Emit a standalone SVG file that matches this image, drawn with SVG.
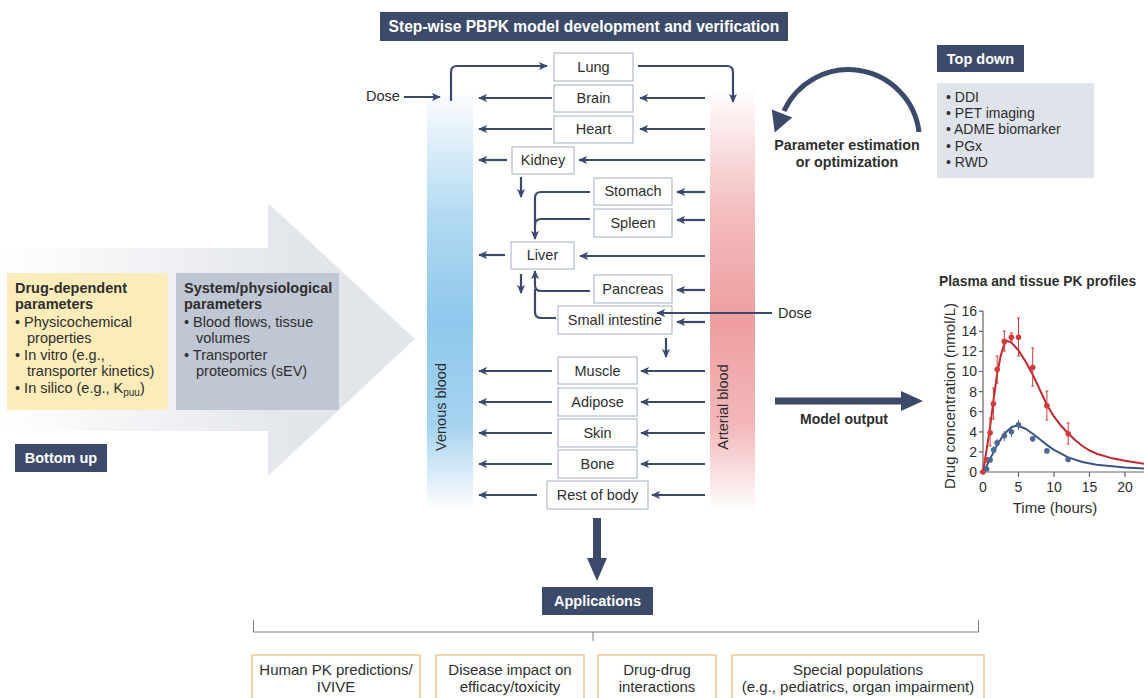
<svg xmlns="http://www.w3.org/2000/svg" width="1144" height="698" viewBox="0 0 1144 698">
<style>
text{font-family:"Liberation Sans",Arial,sans-serif;fill:#2e2e2e}
.b{font-weight:bold}
.w{fill:#ffffff;font-weight:bold}
.org{fill:#ffffff;stroke:#b3bccc;stroke-width:1.2}
.ot{font-size:14.5px;text-anchor:middle}
.nav{fill:#3c4b69}
.ln{fill:none;stroke:#3b4a6b;stroke-width:2.2;marker-end:url(#ah)}
.ln0{fill:none;stroke:#3b4a6b;stroke-width:2.2}
.app{fill:#ffffff;stroke:#e8c27e;stroke-width:1.3}
.at{font-size:15px;text-anchor:middle}
.ax{stroke:#666;stroke-width:1.2;fill:none}
.tk{font-size:14px;fill:#555}
.rd{fill:#d23a3c}
.bl{fill:#4c6a95}
.re{stroke:#d23a3c;stroke-width:1;fill:none}
.be{stroke:#4c6a95;stroke-width:1;fill:none}
</style>
<defs>
<marker id="ah" viewBox="0 0 10 10" refX="9" refY="5" markerWidth="9" markerHeight="9" markerUnits="userSpaceOnUse" orient="auto">
<path d="M0,0.5 L10,5 L0,9.5 L2.5,5 z" fill="#3b4a6b"/>
</marker>
<linearGradient id="bigArrow" gradientUnits="userSpaceOnUse" x1="0" y1="0" x2="300" y2="0">
<stop offset="0" stop-color="#ffffff"/>
<stop offset="1" stop-color="#e2e5ea"/>
</linearGradient>
<linearGradient id="ven" x1="0" y1="0" x2="0" y2="1">
<stop offset="0" stop-color="#ffffff"/>
<stop offset="0.3" stop-color="#b3daf2"/>
<stop offset="0.55" stop-color="#8ec8ec"/>
<stop offset="0.8" stop-color="#a6d4f0"/>
<stop offset="1" stop-color="#ffffff"/>
</linearGradient>
<linearGradient id="art" x1="0" y1="0" x2="0" y2="1">
<stop offset="0" stop-color="#ffffff"/>
<stop offset="0.3" stop-color="#f3bcbd"/>
<stop offset="0.55" stop-color="#ee9ea1"/>
<stop offset="0.8" stop-color="#f3b8ba"/>
<stop offset="1" stop-color="#ffffff"/>
</linearGradient>
</defs>

<rect width="1144" height="698" fill="#ffffff"/>

<g id="bottom-up-arrow">
<polygon points="0,248 268,248 268,203 415,339 268,476 268,431 0,431" fill="url(#bigArrow)"/>
</g>

<g id="drug-params">
<rect x="7" y="273" width="161" height="137" fill="#fcecb9"/>
<text class="b" x="15" y="293" font-size="14.5">Drug-dependent</text>
<text class="b" x="15" y="309" font-size="14.5">parameters</text>
<text x="15" y="327" font-size="14.5">• Physicochemical</text>
<text x="27" y="343" font-size="14.5">properties</text>
<text x="15" y="360" font-size="14.5">• In vitro (e.g.,</text>
<text x="27" y="376" font-size="14.5">transporter kinetics)</text>
<text x="15" y="393" font-size="14.5">• In silico (e.g., K<tspan font-size="10" dy="3">puu</tspan><tspan dy="-3">)</tspan></text>
</g>

<g id="system-params">
<rect x="176" y="273" width="163" height="137" fill="#bfc6d4"/>
<text class="b" x="184" y="293" font-size="14.5">System/physiological</text>
<text class="b" x="184" y="309" font-size="14.5">parameters</text>
<text x="184" y="327" font-size="14.5">• Blood flows, tissue</text>
<text x="196" y="343" font-size="14.5">volumes</text>
<text x="184" y="360" font-size="14.5">• Transporter</text>
<text x="196" y="376" font-size="14.5">proteomics (sEV)</text>
</g>

<g id="bottom-up">
<rect class="nav" x="15" y="444" width="92" height="28"/>
<text class="w" x="61" y="463" font-size="14.5" text-anchor="middle">Bottom up</text>
</g>

<g id="title">
<rect class="nav" x="380" y="12" width="408" height="29"/>
<text class="w" x="584" y="32" font-size="15.6" text-anchor="middle">Step-wise PBPK model development and verification</text>
</g>

<g id="venous-blood">
<rect x="427" y="87" width="46" height="424" fill="url(#ven)"/>
<text transform="translate(446,407) rotate(-90)" font-size="14.5" text-anchor="middle">Venous blood</text>
</g>
<g id="arterial-blood">
<rect x="710" y="87" width="45" height="424" fill="url(#art)"/>
<text transform="translate(728,407) rotate(-90)" font-size="14.5" text-anchor="middle">Arterial blood</text>
</g>

<g id="lung"><rect class="org" x="554" y="53" width="79" height="28"/><text class="ot" x="593.5" y="72">Lung</text></g>
<g id="brain"><rect class="org" x="554" y="85" width="79" height="27"/><text class="ot" x="593.5" y="103">Brain</text></g>
<g id="heart"><rect class="org" x="554" y="116" width="79" height="27"/><text class="ot" x="593.5" y="134">Heart</text></g>
<g id="kidney"><rect class="org" x="512" y="147" width="62" height="27"/><text class="ot" x="543" y="165">Kidney</text></g>
<g id="stomach"><rect class="org" x="594" y="178" width="78" height="27"/><text class="ot" x="633" y="196">Stomach</text></g>
<g id="spleen"><rect class="org" x="594" y="209" width="78" height="28"/><text class="ot" x="633" y="228">Spleen</text></g>
<g id="liver"><rect class="org" x="511" y="242" width="63" height="27"/><text class="ot" x="542.5" y="260">Liver</text></g>
<g id="pancreas"><rect class="org" x="594" y="275" width="78" height="28"/><text class="ot" x="633" y="294">Pancreas</text></g>
<g id="small-intestine"><rect class="org" x="558" y="306" width="114" height="28"/><text class="ot" x="615" y="325">Small intestine</text></g>
<g id="muscle"><rect class="org" x="558" y="357" width="79" height="27"/><text class="ot" x="597.5" y="376">Muscle</text></g>
<g id="adipose"><rect class="org" x="558" y="388" width="79" height="28"/><text class="ot" x="597.5" y="407">Adipose</text></g>
<g id="skin"><rect class="org" x="558" y="419" width="79" height="28"/><text class="ot" x="597.5" y="438">Skin</text></g>
<g id="bone"><rect class="org" x="558" y="450" width="79" height="28"/><text class="ot" x="597.5" y="469">Bone</text></g>
<g id="rest-of-body"><rect class="org" x="547" y="481" width="101" height="28"/><text class="ot" x="597.5" y="500">Rest of body</text></g>

<g id="dose-labels">
<text x="366" y="101" font-size="14.5">Dose</text>
<text x="778" y="318" font-size="14.5">Dose</text>
</g>

<g id="connectors">
<path class="ln" d="M404,97 H440"/>
<path class="ln" d="M451,101 V72 Q451,66 457,66 H547"/>
<path class="ln" d="M638,66 H727 Q733,66 733,72 V102"/>
<path class="ln" d="M552,98 H479"/>
<path class="ln" d="M705,98 H640"/>
<path class="ln" d="M552,129 H479"/>
<path class="ln" d="M705,129 H640"/>
<path class="ln" d="M507,160 H479"/>
<path class="ln" d="M705,160 H579"/>
<path class="ln" d="M521,177 V197"/>
<path class="ln" d="M705,192 H677"/>
<path class="ln" d="M705,220 H677"/>
<path class="ln" d="M590,192 H541 Q535,192 535,198 V239"/>
<path class="ln0" d="M590,219 H541 Q535,219 535,225"/>
<path class="ln" d="M505,255 H479"/>
<path class="ln" d="M705,256 H580"/>
<path class="ln" d="M521,274 V293"/>
<path class="ln" d="M705,290 H677"/>
<path class="ln" d="M705,322 H677"/>
<path class="ln" d="M590,291 H541 Q535,291 535,285 V271"/>
<path class="ln0" d="M556,318 H541 Q535,318 535,312 V289"/>
<path class="ln" d="M772,313 H657"/>
<path class="ln" d="M666,338 V357"/>
<path class="ln" d="M552,371 H479"/>
<path class="ln" d="M705,371 H641"/>
<path class="ln" d="M552,402 H479"/>
<path class="ln" d="M705,402 H641"/>
<path class="ln" d="M552,433 H479"/>
<path class="ln" d="M705,433 H641"/>
<path class="ln" d="M552,464 H479"/>
<path class="ln" d="M705,464 H641"/>
<path class="ln" d="M537,495 H479"/>
<path class="ln" d="M705,495 H652"/>
<path d="M919,132 A71,71 0 0 0 784,111" fill="none" stroke="#3b4a6b" stroke-width="5"/>
<polygon points="774.7,132.6 792.2,117.5 771.8,109.5" fill="#3b4a6b"/>
<rect x="775" y="397.5" width="128" height="7" fill="#3b4a6b"/>
<polygon points="901,391 923,401 901,411" fill="#3b4a6b"/>
<rect x="593" y="518" width="8" height="42" fill="#3b4a6b"/>
<polygon points="587,558 607,558 597,581" fill="#3b4a6b"/>
<path d="M253.5,620 V632 H978.5 V620 M593,632 V641" fill="none" stroke="#7a7a7a" stroke-width="1"/>
</g>

<g id="param-estimation">
<text class="b" x="847" y="150" font-size="14.3" text-anchor="middle">Parameter estimation</text>
<text class="b" x="847" y="167" font-size="14.3" text-anchor="middle">or optimization</text>
</g>

<g id="top-down">
<rect class="nav" x="937" y="45" width="87" height="27"/>
<text class="w" x="980.5" y="63.5" font-size="14.5" text-anchor="middle">Top down</text>
</g>
<g id="top-down-list">
<rect x="937" y="83" width="157" height="95" fill="#dfe3ea"/>
<text x="946" y="102" font-size="14">• DDI</text>
<text x="946" y="118" font-size="14">• PET imaging</text>
<text x="946" y="134" font-size="14">• ADME biomarker</text>
<text x="946" y="151" font-size="14">• PGx</text>
<text x="946" y="167" font-size="14">• RWD</text>
</g>

<g id="model-output">
<text class="b" x="844" y="424" font-size="14" text-anchor="middle">Model output</text>
</g>

<g id="pk-plot">
<text class="b" x="939" y="286" font-size="13.8">Plasma and tissue PK profiles</text>
<text transform="translate(955,396) rotate(-90)" font-size="15" text-anchor="middle">Drug concentration (nmol/L)</text>
<path class="ax" d="M983,311 V472 H1144"/>
<path class="ax" d="M979,311.2 H983 M979,331.3 H983 M979,351.4 H983 M979,371.5 H983 M979,391.6 H983 M979,411.7 H983 M979,431.8 H983 M979,451.9 H983 M979,472 H983"/>
<path class="ax" d="M1018.5,472 V477 M1054,472 V477 M1089.5,472 V477 M1125,472 V477"/>
<g class="tk" text-anchor="end">
<text x="977" y="316">16</text>
<text x="977" y="336">14</text>
<text x="977" y="356">12</text>
<text x="977" y="376">10</text>
<text x="977" y="396.5">8</text>
<text x="977" y="416.5">6</text>
<text x="977" y="436.5">4</text>
<text x="977" y="456.5">2</text>
<text x="977" y="477">0</text>
</g>
<g class="tk" text-anchor="middle">
<text x="983" y="492">0</text>
<text x="1018.5" y="492">5</text>
<text x="1054" y="492">10</text>
<text x="1089.5" y="492">15</text>
<text x="1125" y="492">20</text>
</g>
<text x="1055" y="513" font-size="15" text-anchor="middle">Time (hours)</text>
<polyline fill="none" stroke="#c0282e" stroke-width="2" stroke-linejoin="round" points="983,472 986.6,449.9 990.1,426.8 993.7,398.6 997.2,373.5 1000.8,355.4 1004.3,344.4 1007.1,340.8 1011.4,342.6 1018.5,350.4 1025.6,361.5 1032.7,374.5 1039.8,389.6 1046.9,404.7 1054,416.7 1061.1,425.8 1068.2,433.3 1075.3,440.3 1082.4,446 1089.5,450.5 1096.6,453.7 1110.8,457.9 1125,460.7 1144,463.8"/>
<polyline fill="none" stroke="#3b5580" stroke-width="2" stroke-linejoin="round" points="983,472 986.6,466 990.1,458.9 993.7,451.9 997.2,444.9 1004.3,433.8 1011.4,427.3 1015.7,425.8 1018.5,426 1025.6,428.8 1032.7,433.8 1039.8,439.3 1046.9,444.9 1054,449.9 1068.2,457.4 1082.4,462 1096.6,464.8 1125,467.5 1144,468.5"/>
<path class="re" d="M990.1,446 V418 M988.6,446 H991.6 M988.6,418 H991.6 M993.4,419 V388 M991.9,419 H994.9 M991.9,388 H994.9 M997.2,383 V356 M995.7,383 H998.7 M995.7,356 H998.7 M1004.3,351 V331 M1002.8,351 H1005.8 M1002.8,331 H1005.8 M1011.4,341 V333 M1009.9,341 H1012.9 M1009.9,333 H1012.9 M1018.5,356 V318 M1017,356 H1020 M1017,318 H1020 M1032.7,386 V348 M1031.2,386 H1034.2 M1031.2,348 H1034.2 M1046.9,420 V391 M1045.4,420 H1048.4 M1045.4,391 H1048.4 M1068.2,444 V423 M1066.7,444 H1069.7 M1066.7,423 H1069.7"/>
<path class="be" d="M993.7,454 V446 M997.2,447 V439 M1004.3,441 V431 M1011.4,437 V427 M1018.5,430 V420 M1032.7,442 V436"/>
<g class="rd">
<circle cx="983" cy="472" r="2.8"/>
<circle cx="986.6" cy="459.9" r="2.8"/>
<circle cx="990.1" cy="432.8" r="2.8"/>
<circle cx="993.4" cy="403.7" r="2.8"/>
<circle cx="997.2" cy="369.5" r="2.8"/>
<circle cx="1004.3" cy="341.4" r="2.8"/>
<circle cx="1011.4" cy="337.3" r="2.8"/>
<circle cx="1018.5" cy="337.3" r="2.8"/>
<circle cx="1032.7" cy="367.5" r="2.8"/>
<circle cx="1046.9" cy="405.7" r="2.8"/>
<circle cx="1068.2" cy="433.8" r="2.8"/>
</g>
<g class="bl">
<circle cx="986.6" cy="469" r="2.8"/>
<circle cx="990.1" cy="459.9" r="2.8"/>
<circle cx="993.7" cy="449.9" r="2.8"/>
<circle cx="997.2" cy="442.9" r="2.8"/>
<circle cx="1004.3" cy="435.8" r="2.8"/>
<circle cx="1011.4" cy="431.8" r="2.8"/>
<circle cx="1018.5" cy="424.8" r="2.8"/>
<circle cx="1032.7" cy="438.8" r="2.8"/>
<circle cx="1046.9" cy="450.9" r="2.8"/>
<circle cx="1068.2" cy="459.4" r="2.8"/>
</g>
</g>

<g id="applications">
<rect class="nav" x="542" y="587" width="111" height="28"/>
<text class="w" x="597.5" y="606" font-size="14.5" text-anchor="middle">Applications</text>
</g>

<g id="app-human-pk">
<rect class="app" x="252" y="655" width="168" height="50"/>
<text class="at" x="336" y="675">Human PK predictions/</text>
<text class="at" x="336" y="692">IVIVE</text>
</g>
<g id="app-disease">
<rect class="app" x="436" y="655" width="148" height="50"/>
<text class="at" x="510" y="675">Disease impact on</text>
<text class="at" x="510" y="692">efficacy/toxicity</text>
</g>
<g id="app-ddi">
<rect class="app" x="598" y="655" width="118" height="50"/>
<text class="at" x="657" y="675">Drug-drug</text>
<text class="at" x="657" y="692">interactions</text>
</g>
<g id="app-special">
<rect class="app" x="732" y="655" width="252" height="50"/>
<text class="at" x="858" y="675">Special populations</text>
<text class="at" x="858" y="692">(e.g., pediatrics, organ impairment)</text>
</g>
</svg>
